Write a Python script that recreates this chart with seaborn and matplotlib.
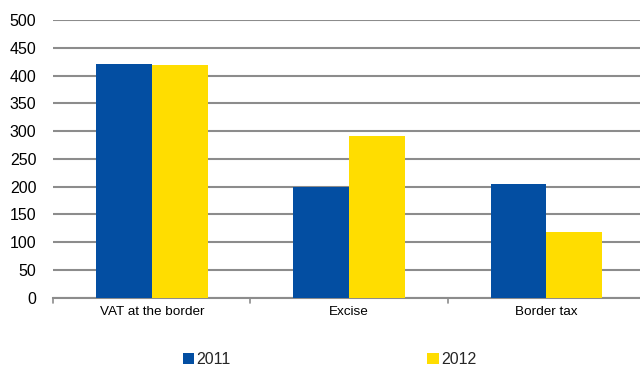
import matplotlib
matplotlib.use("Agg")
import matplotlib.pyplot as plt
from matplotlib.patches import Patch
import seaborn as sns
import pandas as pd

categories = ["VAT at the border", "Excise", "Border tax"]
years = ["2011", "2012"]
values_2011 = [420, 200, 205]
values_2012 = [419, 291, 118]
colors = ["#034EA2", "#FFDD00"]

df = pd.DataFrame({
    "category": categories * 2,
    "year": [years[0]] * 3 + [years[1]] * 3,
    "value": values_2011 + values_2012,
})

sns.set_theme(style="white")
plt.rcParams["font.family"] = ["Liberation Sans", "DejaVu Sans"]

fig = plt.figure(figsize=(6.4, 3.71), dpi=100)
ax = fig.add_axes([0.083, 0.198, 0.925, 0.748])

sns.barplot(data=df, x="category", y="value", hue="year", palette=colors,
            width=0.567, saturation=1, ax=ax, legend=False, zorder=3,
            linewidth=0)

ax.set_ylim(0, 500)
ax.set_xlim(-0.5, 2.5)
ax.set_yticks(range(0, 501, 50))
ax.yaxis.grid(True, color="#8C8C8C", linewidth=1.5, zorder=0)
ax.set_axisbelow(True)
for s in ["top", "right", "left"]:
    ax.spines[s].set_visible(False)
ax.spines["bottom"].set_color("#8C8C8C")
ax.spines["bottom"].set_linewidth(1.5)
ax.set_xlabel("")
ax.set_ylabel("")
ax.tick_params(axis="y", labelsize=11.5, length=0, pad=12, colors="black")
ax.tick_params(axis="x", labelsize=9.7, length=0, pad=6, colors="black")
ax.set_xticks([0, 1, 2])
ax.set_xticklabels(categories)
# category boundary ticks
for xb in [-0.5, 0.5, 1.5]:
    ax.plot([xb, xb], [0, -9], color="#8C8C8C", lw=1.2, clip_on=False,
            transform=ax.transData)

handles = [Patch(facecolor=c, edgecolor="none") for c in colors]
fig.legend(handles, years, loc="center", bbox_to_anchor=(0.515, 0.03),
           ncol=2, frameon=False, fontsize=11.5, handlelength=0.7,
           handleheight=0.7, handletextpad=0.15, columnspacing=12.3)

fig.savefig("out.png", dpi=100)
